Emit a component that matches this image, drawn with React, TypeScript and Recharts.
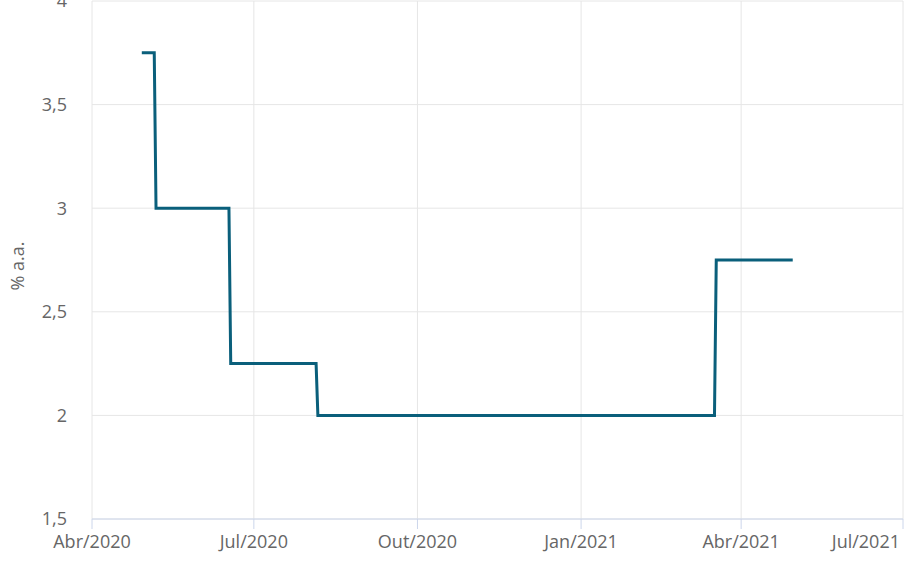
import React from "react";
import { LineChart, Line, XAxis, YAxis, CartesianGrid } from "recharts";

const dates = [
  "2020-04-29", "2020-05-06", "2020-05-07", "2020-06-17", "2020-06-18",
  "2020-08-05", "2020-08-06", "2021-03-17", "2021-03-18", "2021-04-30",
];
const rates = [3.75, 3.75, 3.0, 3.0, 2.25, 2.25, 2.0, 2.0, 2.75, 2.75];

const xTickDates = ["2020-04-01", "2020-07-01", "2020-10-01", "2021-01-01", "2021-04-01", "2021-07-01"];
const xTickLabels = ["Abr/2020", "Jul/2020", "Out/2020", "Jan/2021", "Abr/2021", "Jul/2021"];
const yTicks = [1.5, 2, 2.5, 3, 3.5, 4];
const yLabel = "% a.a.";

const toTs = (d: string) => Date.parse(d + "T00:00:00Z");
const data = dates.map((d, i) => ({ t: toTs(d), v: rates[i] }));
const xTicks = xTickDates.map(toTs);

const FONT = "'Open Sans', sans-serif";

const XTick = (props: any) => {
  const { x, y, payload } = props;
  const idx = xTicks.indexOf(payload.value);
  const isLast = idx === xTicks.length - 1;
  return (
    <text
      x={isLast ? x - 3 : x}
      y={y + 6}
      dy="0.71em"
      textAnchor={isLast ? "end" : "middle"}
      fill="#666666"
      fontSize={18}
      fontFamily={FONT}
    >
      {xTickLabels[idx] ?? ""}
    </text>
  );
};

export default function App() {
  return (
    <div style={{ position: "absolute", left: 0, top: 0 }}>
      <LineChart
        width={911}
        height={564}
        data={data}
        margin={{ top: 1, right: 8, left: 0, bottom: 5 }}
      >
        <CartesianGrid stroke="#e6e6e6" strokeWidth={1} />
        <XAxis
          dataKey="t"
          type="number"
          scale="time"
          domain={[xTicks[0], xTicks[xTicks.length - 1]]}
          ticks={xTicks}
          height={40}
          stroke="#ccd6eb"
          tickSize={10}
          tickMargin={0}
          tick={<XTick />}
          interval={0}
          allowDataOverflow
        />
        <YAxis
          type="number"
          domain={[1.5, 4]}
          ticks={yTicks}
          width={92}
          axisLine={false}
          tickLine={false}
          tickSize={0}
          tickMargin={25}
          tickFormatter={(v: number) => String(v).replace(".", ",")}
          tick={{ fill: "#666666", fontSize: 18, fontFamily: FONT }}
          interval={0}
          label={{
            content: () => (
              <text
                x={24}
                y={266}
                transform="rotate(-90, 24, 266)"
                textAnchor="middle"
                fill="#666666"
                fontSize={18}
                fontFamily={FONT}
              >
                {yLabel}
              </text>
            ),
          }}
        />
        <Line
          type="linear"
          dataKey="v"
          stroke="#0a5f7b"
          strokeWidth={3}
          dot={false}
          activeDot={false}
          isAnimationActive={false}
        />
      </LineChart>
    </div>
  );
}
